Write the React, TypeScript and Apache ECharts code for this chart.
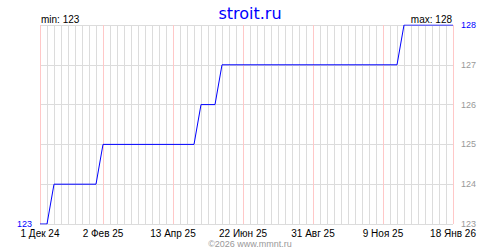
import React, { useEffect, useRef } from "react";
import * as echarts from "echarts";

const CATEGORIES = [
  "1 Дек 24", "8 Дек 24", "15 Дек 24", "22 Дек 24", "29 Дек 24",
  "5 Янв 25", "12 Янв 25", "19 Янв 25", "26 Янв 25",
  "2 Фев 25", "9 Фев 25", "16 Фев 25", "23 Фев 25",
  "2 Мар 25", "9 Мар 25", "16 Мар 25", "23 Мар 25", "30 Мар 25",
  "6 Апр 25", "13 Апр 25", "20 Апр 25", "27 Апр 25",
  "4 Май 25", "11 Май 25", "18 Май 25", "25 Май 25",
  "1 Июн 25", "8 Июн 25", "15 Июн 25", "22 Июн 25", "29 Июн 25",
  "6 Июл 25", "13 Июл 25", "20 Июл 25", "27 Июл 25",
  "3 Авг 25", "10 Авг 25", "17 Авг 25", "24 Авг 25", "31 Авг 25",
  "7 Сен 25", "14 Сен 25", "21 Сен 25", "28 Сен 25",
  "5 Окт 25", "12 Окт 25", "19 Окт 25", "26 Окт 25",
  "2 Ноя 25", "9 Ноя 25", "16 Ноя 25", "23 Ноя 25", "30 Ноя 25",
  "7 Дек 25", "14 Дек 25", "21 Дек 25", "28 Дек 25",
  "4 Янв 26", "11 Янв 26", "18 Янв 26",
];

const VALUES = [
  123, 123,
  124, 124, 124, 124, 124, 124, 124,
  125, 125, 125, 125, 125, 125, 125, 125, 125, 125, 125, 125, 125, 125,
  126, 126, 126,
  127, 127, 127, 127, 127, 127, 127, 127, 127, 127, 127, 127, 127, 127, 127, 127, 127,
  127, 127, 127, 127, 127, 127, 127, 127, 127,
  128, 128, 128, 128, 128, 128, 128, 128,
];

const TICK_LABELS = ["1 Дек 24", "2 Фев 25", "13 Апр 25", "22 Июн 25", "31 Авг 25", "9 Ноя 25", "18 Янв 26"];
const Y_MIN = 123;
const Y_MAX = 128;
const TITLE = "stroit.ru";
const FOOTER = "©2026 www.mmnt.ru";

const FONT = "Liberation Sans";

export default function App() {
  const ref = useRef<HTMLDivElement>(null);
  useEffect(() => {
    if (!ref.current) return;
    const chart = echarts.init(ref.current, null, { renderer: "svg" });
    const isTick = (i: number) => TICK_LABELS.includes(CATEGORIES[i]);
    chart.setOption({
      animation: false,
      backgroundColor: "#fff",
      textStyle: { fontFamily: FONT },
      title: {
        text: TITLE,
        left: "center",
        top: 0,
        textStyle: { color: "#0000ff", fontSize: 16, fontWeight: "normal", fontFamily: "DejaVu Sans" },
      },
      grid: { left: 40, right: 47, top: 25, bottom: 26, containLabel: false },
      xAxis: [
        {
          type: "category",
          data: CATEGORIES,
          boundaryGap: false,
          axisLine: { show: false },
          axisTick: { show: false },
          axisLabel: {
            interval: (i: number) => isTick(i),
            color: "#000",
            fontSize: 10,
            margin: 4,
            fontFamily: FONT,
          },
          splitLine: { show: true, interval: 0, lineStyle: { color: "#dcdcdc", width: 1 } },
        },
        {
          type: "category",
          data: CATEGORIES,
          boundaryGap: false,
          position: "bottom",
          axisLine: { show: false },
          axisTick: { show: false },
          axisLabel: { show: false },
          splitLine: { show: true, interval: (i: number) => isTick(i), lineStyle: { color: "#ffc8c8", width: 1 } },
        },
      ],
      yAxis: [
        {
          type: "value",
          position: "right",
          min: Y_MIN,
          max: Y_MAX,
          interval: 1,
          axisLine: { show: false },
          axisTick: { show: false },
          splitLine: { show: true, lineStyle: { color: "#dcdcdc", width: 1 } },
          axisLabel: {
            margin: 8,
            fontSize: 9,
            fontFamily: FONT,
            formatter: (v: number) => (v === Y_MAX ? `{b|${v}}` : `{g|${v}}`),
            rich: {
              b: { color: "#0000ff", fontSize: 9, fontFamily: FONT },
              g: { color: "#999", fontSize: 9, fontFamily: FONT },
            },
          },
        },
        {
          type: "value",
          position: "left",
          min: Y_MIN,
          max: Y_MAX,
          interval: 1,
          axisLine: { show: false },
          axisTick: { show: false },
          splitLine: { show: false },
          axisLabel: {
            margin: 8,
            fontSize: 9,
            fontFamily: FONT,
            color: "#0000ff",
            formatter: (v: number) => (v === Y_MIN ? String(v) : ""),
          },
        },
      ],
      graphic: [
        {
          type: "text",
          left: 41,
          top: 14,
          style: { text: `min: ${Y_MIN}`, fill: "#000", font: `10px "${FONT}"` },
        },
        {
          type: "text",
          right: 48,
          top: 14,
          style: { text: `max: ${Y_MAX}`, fill: "#000", font: `10px "${FONT}"` },
        },
        {
          type: "text",
          left: "center",
          top: 239,
          style: { text: FOOTER, fill: "#999", font: `9px "${FONT}"` },
        },
      ],
      series: [
        {
          type: "line",
          xAxisIndex: 0,
          yAxisIndex: 0,
          data: VALUES,
          symbol: "none",
          lineStyle: { color: "#0000ff", width: 1 },
          z: 5,
        },
      ],
    });
    return () => chart.dispose();
  }, []);
  return <div ref={ref} style={{ width: 500, height: 250, position: "absolute", left: 0, top: 0 }} />;
}
